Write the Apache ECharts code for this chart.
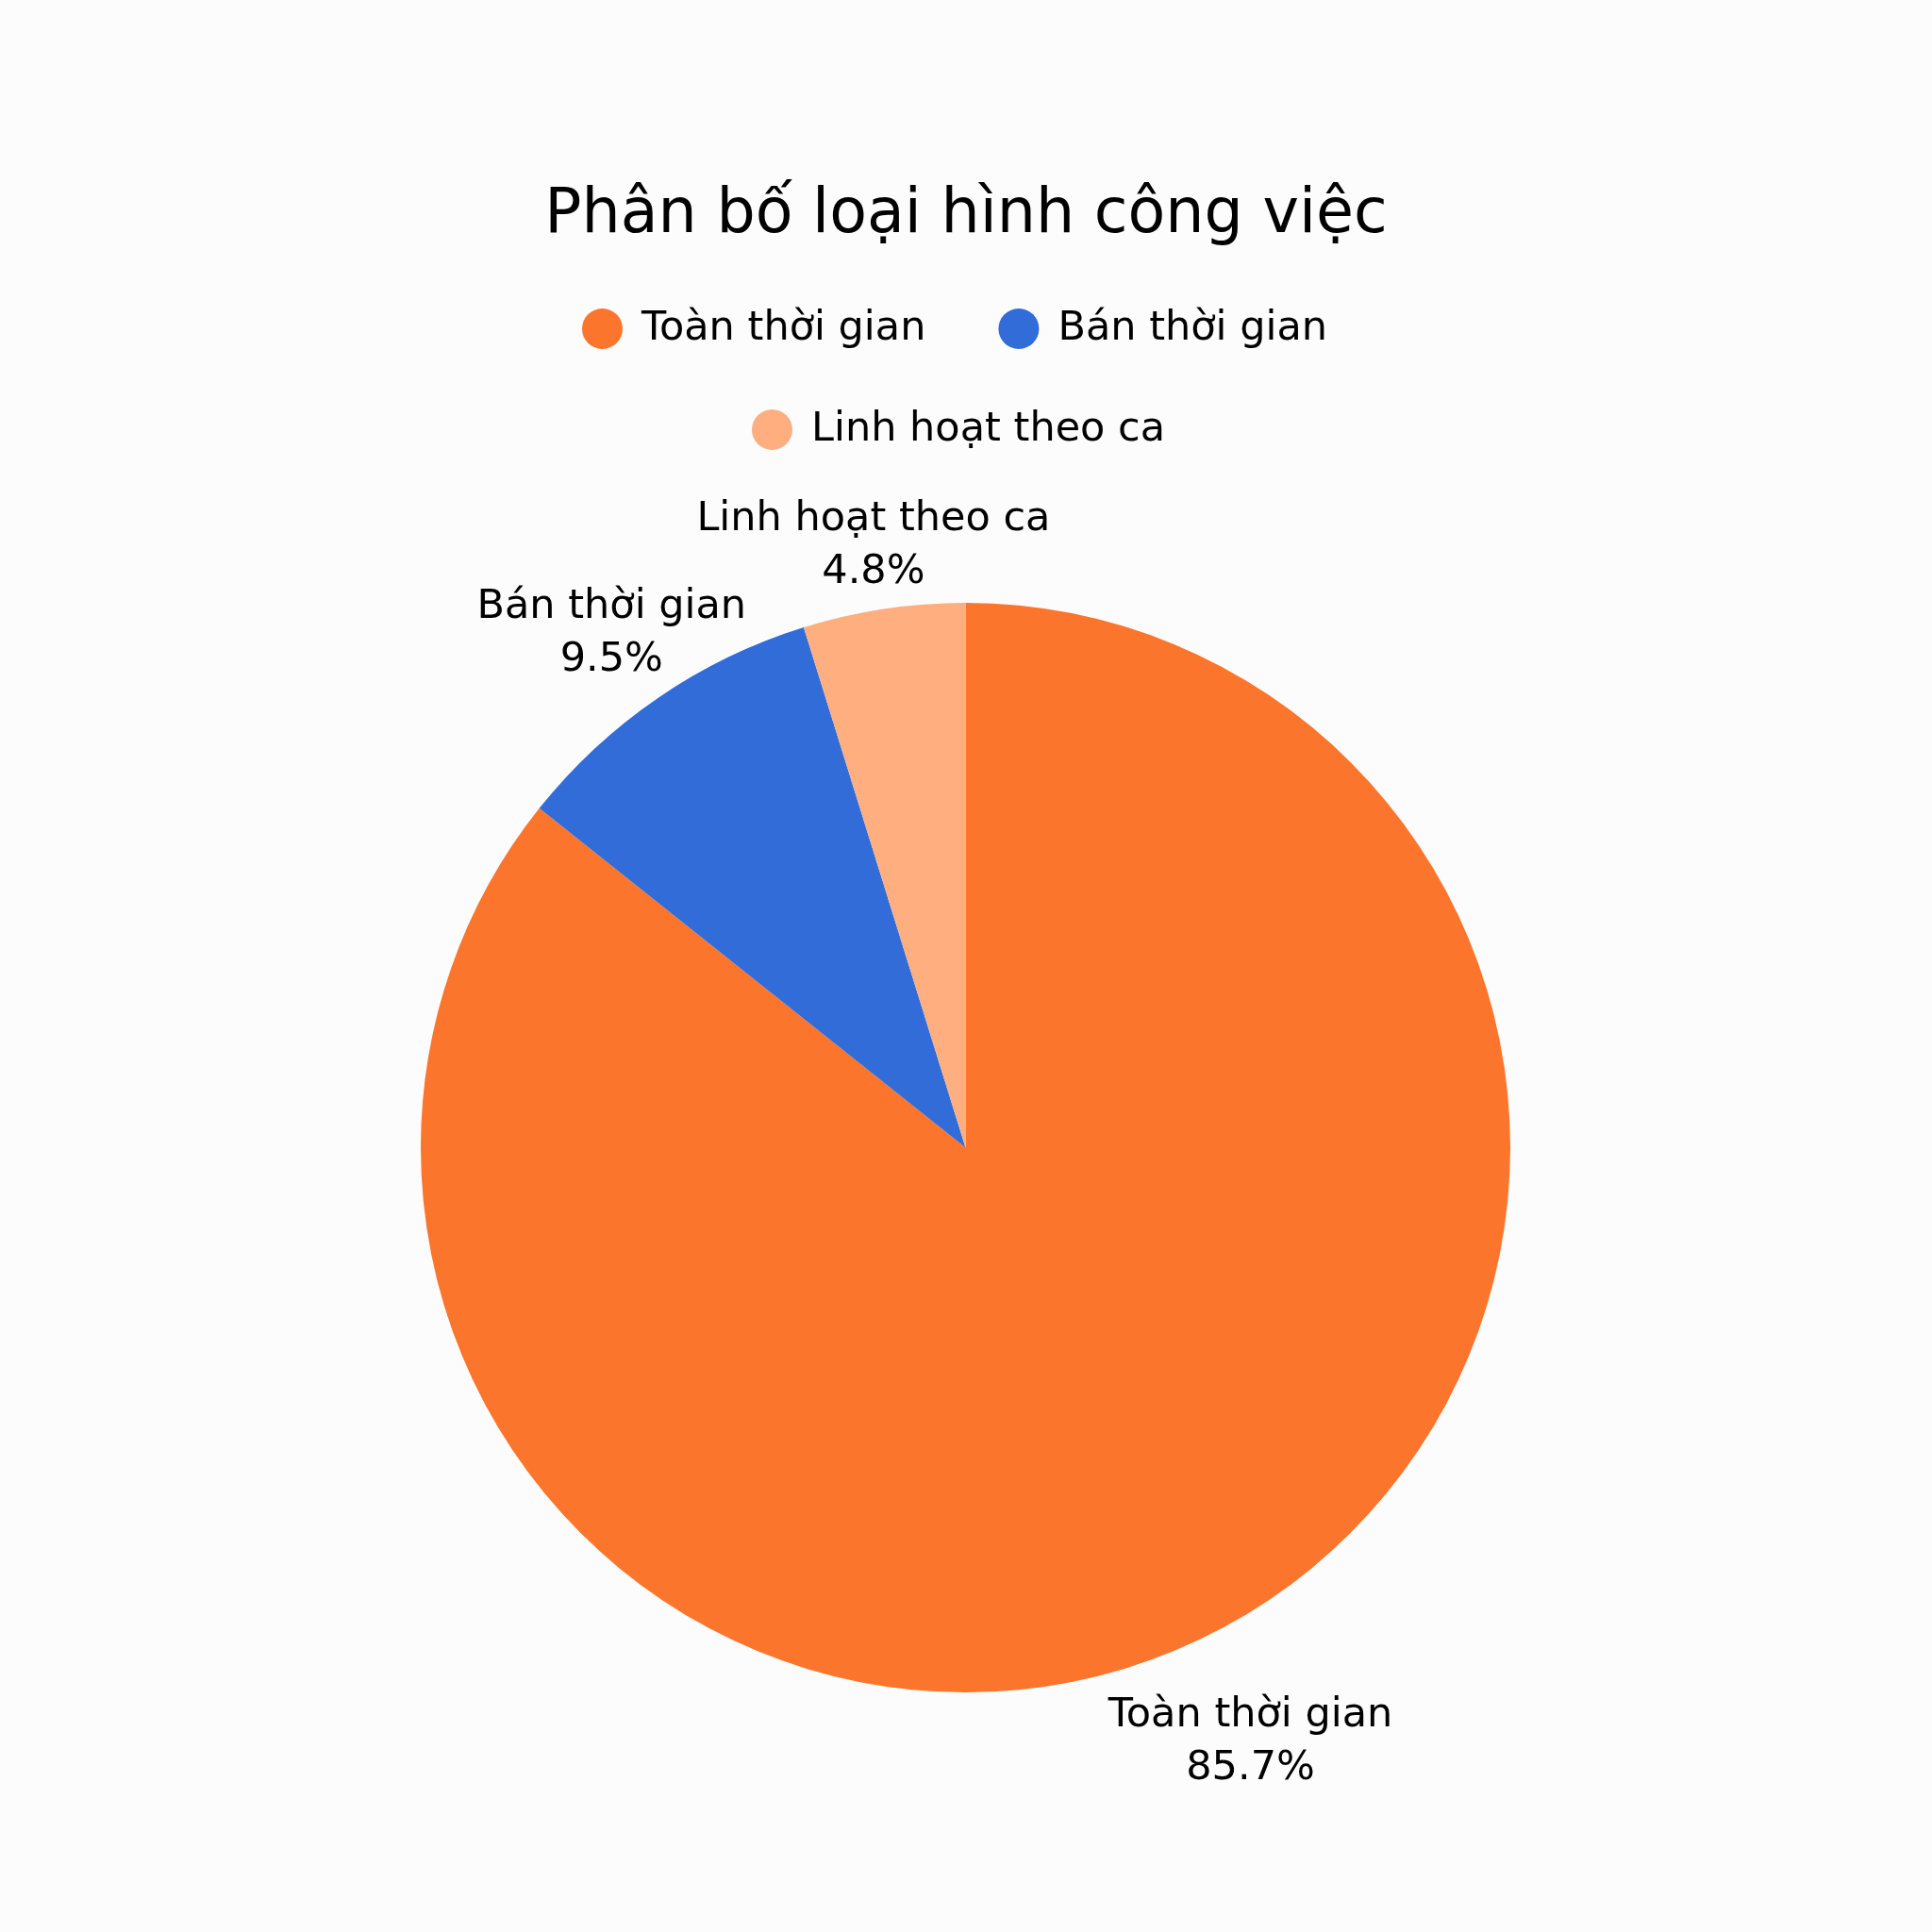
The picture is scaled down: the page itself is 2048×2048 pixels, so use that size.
<!DOCTYPE html>
<html>
<head>
<meta charset="utf-8">
<script src="https://cdn.jsdelivr.net/npm/echarts@6/dist/echarts.min.js"></script>
<style>
  html, body { margin: 0; padding: 0; background: #fcfcfc; }
  #chart { width: 2048px; height: 2048px; }
</style>
</head>
<body>
<div id="chart"></div>
<script>
// ---- data ----
const chartTitle = 'Phân bố loại hình công việc';
const categories = ['Toàn thời gian', 'Bán thời gian', 'Linh hoạt theo ca'];
const shares = [85.7, 9.5, 4.8];
const colors = ['#fc752c', '#316cd8', '#ffae80'];

// ---- layout / style ----
const FONT = '"DejaVu Sans", sans-serif';
const labelGap = [118, 87, 72]; // radial distance of each label block beyond the rim

const seriesData = categories.map((name, i) => ({
  name: name,
  value: shares[i],
  itemStyle: { color: colors[i] },
  labelLine: { show: false, length: labelGap[i], length2: 0 }
}));

const legendCommon = {
  padding: 0,
  orient: 'horizontal',
  icon: 'circle',
  itemWidth: 43,
  itemHeight: 43,
  itemGap: 77,
  selectedMode: false,
  textStyle: { fontFamily: FONT, fontSize: 43, color: '#000', padding: [0, 0, 0, 15] }
};

const chart = echarts.init(document.getElementById('chart'), null, { renderer: 'canvas' });
chart.setOption({
  backgroundColor: '#fcfcfc',
  animation: false,
  title: {
    text: chartTitle,
    left: 'center',
    top: 197,
    padding: 0,
    textStyle: { fontFamily: FONT, fontSize: 65, fontWeight: 'normal', color: '#000' }
  },
  legend: [
    Object.assign({ data: categories.slice(0, 2), left: 617, top: 327 }, legendCommon),
    Object.assign({ data: categories.slice(2), left: 797, top: 434 }, legendCommon)
  ],
  series: [
    {
      type: 'pie',
      center: [1023.5, 1216.5],
      radius: 577.5,
      startAngle: 90,
      clockwise: true,
      avoidLabelOverlap: false,
      percentPrecision: 1,
      data: seriesData,
      label: {
        show: true,
        position: 'outside',
        formatter: '{b}\n{d}%',
        fontFamily: FONT,
        fontSize: 43,
        lineHeight: 56,
        color: '#000',
        distanceToLabelLine: 0
      },
      labelLayout: function () { return { align: 'center', dy: 4 }; },
      emphasis: { disabled: true }
    }
  ]
});
</script>
</body>
</html>
